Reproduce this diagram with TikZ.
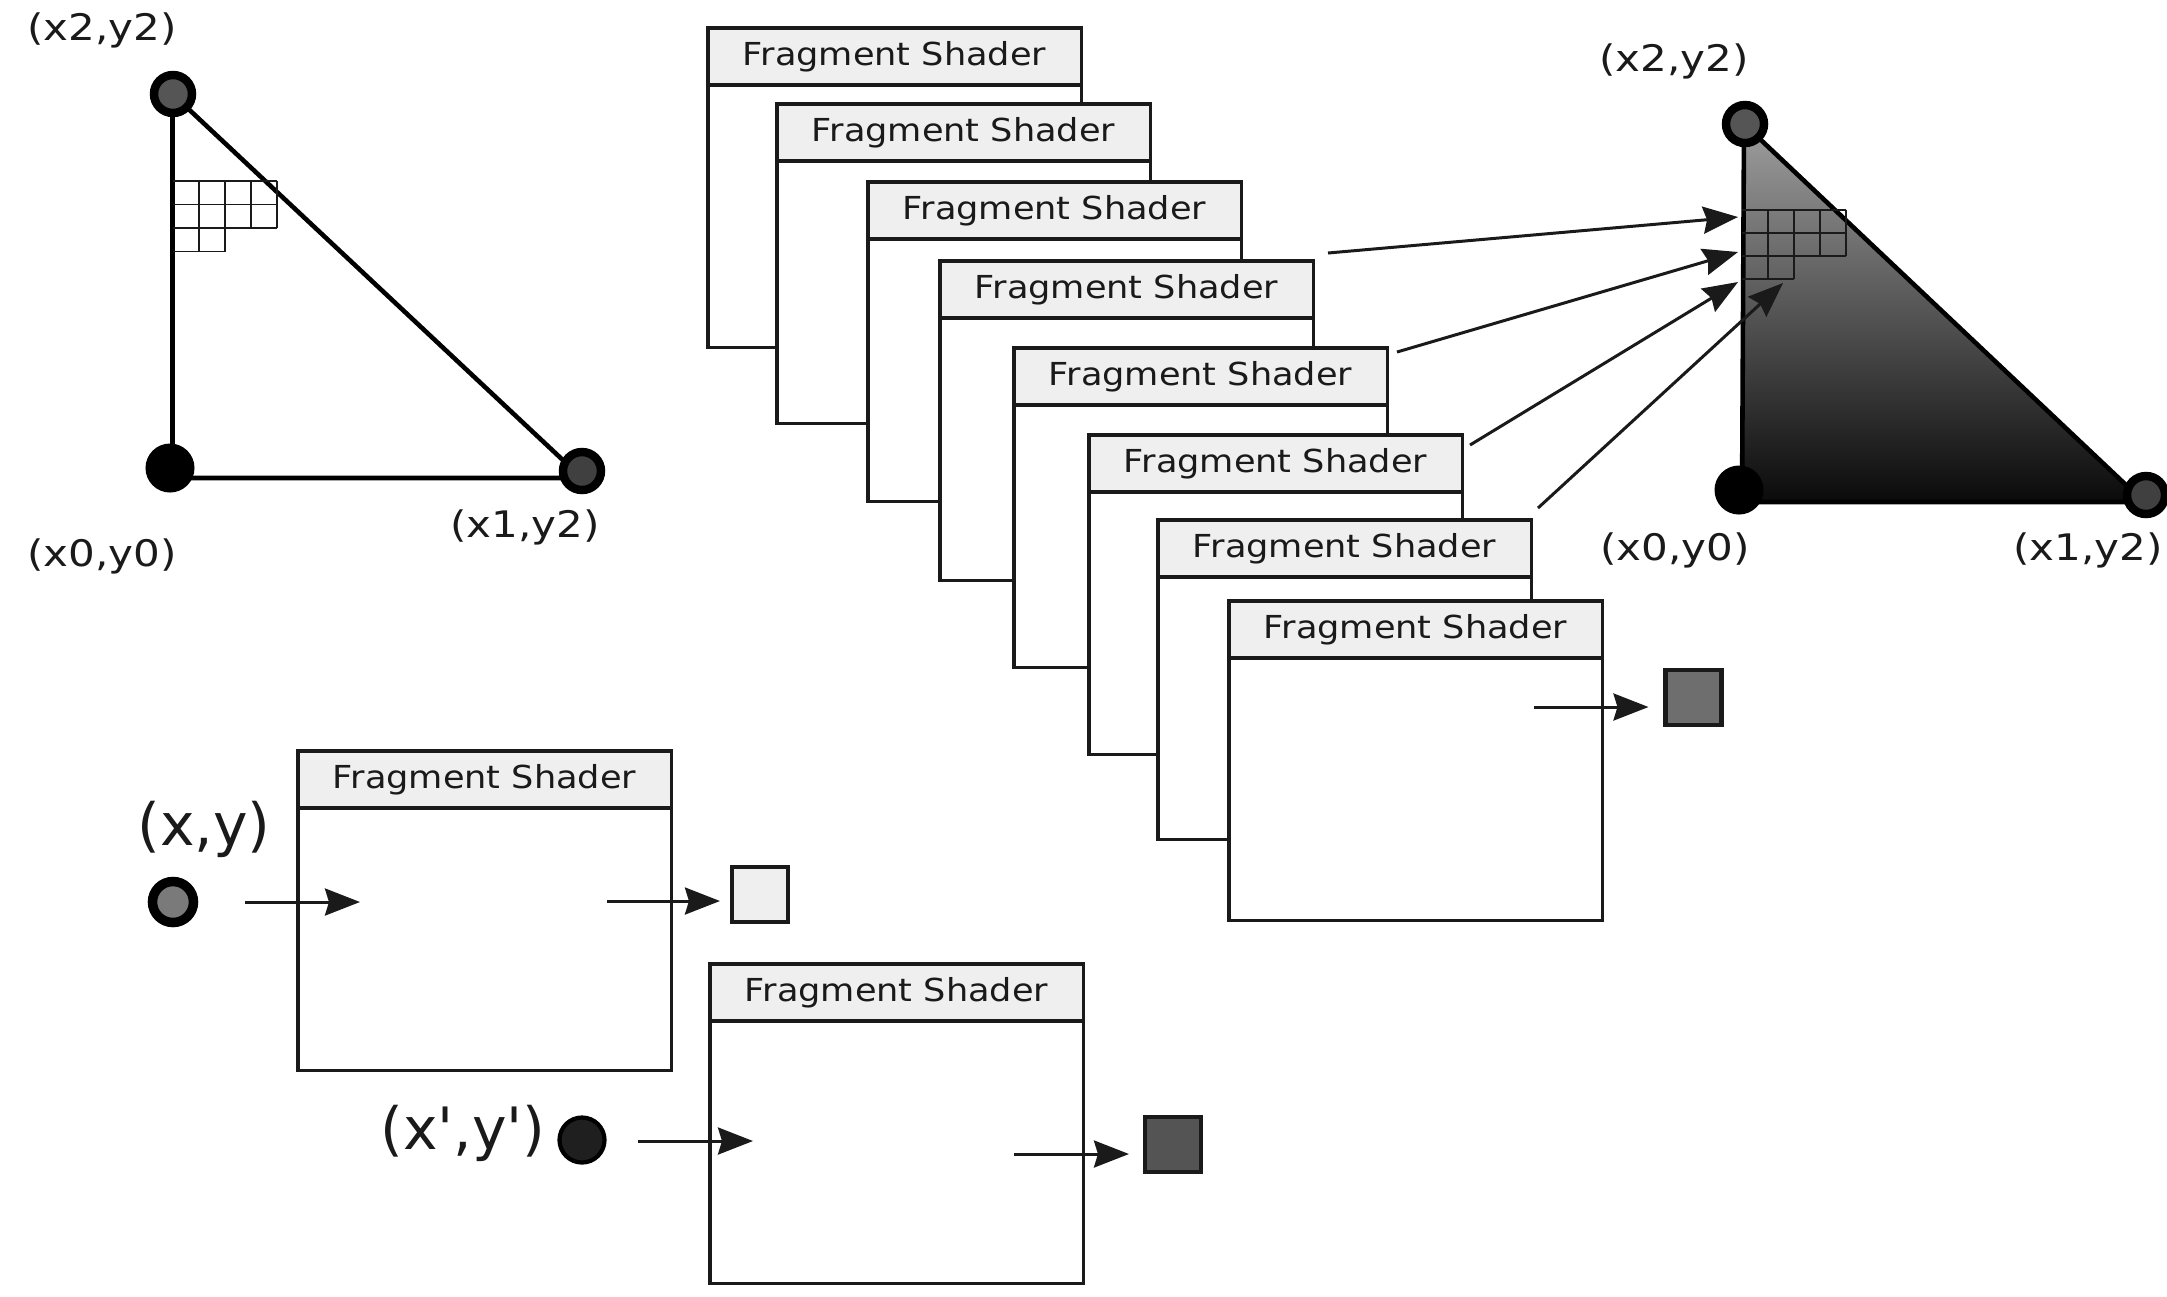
\documentclass[tikz,border=0pt]{standalone}
\usepackage{fontspec}
\setmainfont{DejaVu Sans}
\newfontfamily\shaderfont[FakeStretch=1.11]{DejaVu Sans}
\newfontfamily\vertexfont[FakeStretch=1.15]{DejaVu Sans}
\usetikzlibrary{arrows.meta,calc}
\definecolor{inkc}{HTML}{1A1A1A}
\definecolor{hdrfill}{HTML}{EFEFEF}
\definecolor{dotgrey}{HTML}{555555}
\begin{document}
\begin{tikzpicture}[x=0.01cm,y=-0.01cm,
  bodybox/.style={draw=inkc,line width=0.95pt,fill=white,anchor=north west,
    minimum width=3.73cm,minimum height=3.19cm,inner sep=0pt,outer sep=0pt},
  headbox/.style={draw=inkc,line width=0.95pt,fill=hdrfill,anchor=north west,
    minimum width=3.73cm,minimum height=0.57cm,inner sep=0pt,outer sep=0pt,
    text=inkc,font=\shaderfont\fontsize{9}{10.8}\selectfont},
  flow/.style={line width=0.85pt,draw=inkc,-{Stealth[length=0.35cm,width=0.27cm,inset=0.04cm]}},
  edgeline/.style={line width=1.3pt,draw=black,line join=round},
  cell/.style={line width=0.55pt,draw=inkc},
  ringdot/.style={circle,draw=black,line width=2.4pt,fill=#1,minimum size=0.38cm,inner sep=0pt},
  soliddot/.style={circle,fill=black,minimum size=0.49cm,inner sep=0pt},
  vlabel/.style={font=\vertexfont\fontsize{10.4}{12}\selectfont,text=inkc,inner sep=0pt},
  biglabel/.style={font=\fontsize{16.6}{19}\selectfont,text=inkc,inner sep=0pt},
  pixel/.style={draw=inkc,line width=1.2pt,fill=#1,minimum width=0.56cm,
    minimum height=0.55cm,inner sep=0pt,outer sep=0pt},
]
\fill[white] (0,0) rectangle (2167,1296);
\useasboundingbox (0,0) rectangle (2167,1296);

% ---------- input triangle (left) ----------
\coordinate (LA) at (172.5,94);
\coordinate (LB) at (172.5,478);
\coordinate (LC) at (582,478);
\draw[edgeline] (LA) -- (LB) -- (LC) -- cycle;
% pixel cells along the left edge
\foreach \yy in {181,204.5,228} \draw[cell] (172.5,\yy) -- (277,\yy);
\draw[cell] (172.5,251.5) -- (225,251.5);
\foreach \xx in {199,225} \draw[cell] (\xx,181) -- (\xx,251.5);
\foreach \xx in {251,277} \draw[cell] (\xx,181) -- (\xx,228);
\node[ringdot=dotgrey] (lv2) at (173,94) {};
\node[soliddot] (lv0) at (170,468) {};
\node[ringdot=black!75] (lv1) at (582,471) {};
\node[vlabel] (lt2) at (102,30) {(x2,y2)};
\node[vlabel] (lt0) at (102,556) {(x0,y0)};
\node[vlabel] (lt1) at (525,527) {(x1,y2)};

% ---------- shaded output triangle (right) ----------
\coordinate (RA) at (1744,124);
\coordinate (RB) at (1742,502);
\coordinate (RC) at (2144,502);
\shade[top color=black!38,bottom color=black!96] (RA) -- (RB) -- (RC) -- cycle;
\draw[edgeline] (RA) -- (RB) -- (RC) -- cycle;
\foreach \yy in {210,233,256} \draw[cell] (1742,\yy) -- (1846,\yy);
\draw[cell] (1742,279) -- (1794,279);
\foreach \xx in {1768,1794} \draw[cell] (\xx,210) -- (\xx,279);
\foreach \xx in {1820,1846} \draw[cell] (\xx,210) -- (\xx,256);
\node[ringdot=dotgrey] (rv2) at (1745,124) {};
\node[soliddot] (rv0) at (1739,490) {};
\node[ringdot=black!75] (rv1) at (2146,495) {};
\node[vlabel] (rt2) at (1674,61) {(x2,y2)};
\node[vlabel] (rt0) at (1675,550) {(x0,y0)};
\node[vlabel] (rt1) at (2088,550) {(x1,y2)};

% ---------- stack of shader invocations ----------
\foreach \n/\xx/\yy in {1/708/28,2/777/104,3/868/182,4/940/261,
                        5/1014/348,6/1089/435,7/1158/520,8/1229/601}{
  \node[bodybox] (fs\n) at (\xx,\yy) {};
  \node[headbox] (hd\n) at (\xx,\yy) {Fragment Shader};
}
% results written into the pixel cells
\coordinate (s1) at (1328,253);
\coordinate (s2) at (1397,352);
\coordinate (s3) at (1470,445);
\coordinate (s4) at (1538,508);
\coordinate (t1) at (1738,217);
\coordinate (t2) at (1738,252);
\coordinate (t3) at (1738,282);
\coordinate (t4) at (1783,283);
\draw[flow] (s1) -- (t1);
\draw[flow] (s2) -- (t2);
\draw[flow] (s3) -- (t3);
\draw[flow] (s4) -- (t4);
% output of the front invocation
\node[pixel=black!57] (px8) at (1693.5,697.5) {};
\coordinate (o8) at (1534,707);
\draw[flow,shorten >=0.17cm] (o8) -- (o8 -| px8.west);

% ---------- single invocation, light fragment ----------
\node[bodybox] (fsA) at (298,751) {};
\node[headbox] (hdA) at (298,751) {Fragment Shader};
\node[ringdot=black!52,line width=2.7pt,minimum size=0.41cm] (pxy) at (173,902) {};
\node[biglabel] (lxy) at (204,829) {(x,y)};
\coordinate (ia) at (245,902);
\coordinate (ea) at (360,902);
\draw[flow] (ia) -- (ea);
\node[pixel=hdrfill] (pxa) at (760,894.5) {};
\coordinate (oa) at (607,901);
\draw[flow,shorten >=0.12cm] (oa) -- (oa -| pxa.west);

% ---------- single invocation, dark fragment ----------
\node[bodybox] (fsB) at (710,964) {};
\node[headbox] (hdB) at (710,964) {Fragment Shader};
\node[circle,fill=black!88,draw=black,line width=1.2pt,minimum size=0.45cm,inner sep=0pt] (pxy2) at (582,1140) {};
\node[biglabel] (lxy2) at (463,1133) {(x\textquotesingle,y\textquotesingle)};
\coordinate (ib) at (638,1141);
\coordinate (eb) at (753,1141);
\draw[flow] (ib) -- (eb);
\node[pixel=black!67] (pxb) at (1173,1144.5) {};
\coordinate (ob) at (1014,1154);
\draw[flow,shorten >=0.16cm] (ob) -- (ob -| pxb.west);
\end{tikzpicture}
\end{document}
